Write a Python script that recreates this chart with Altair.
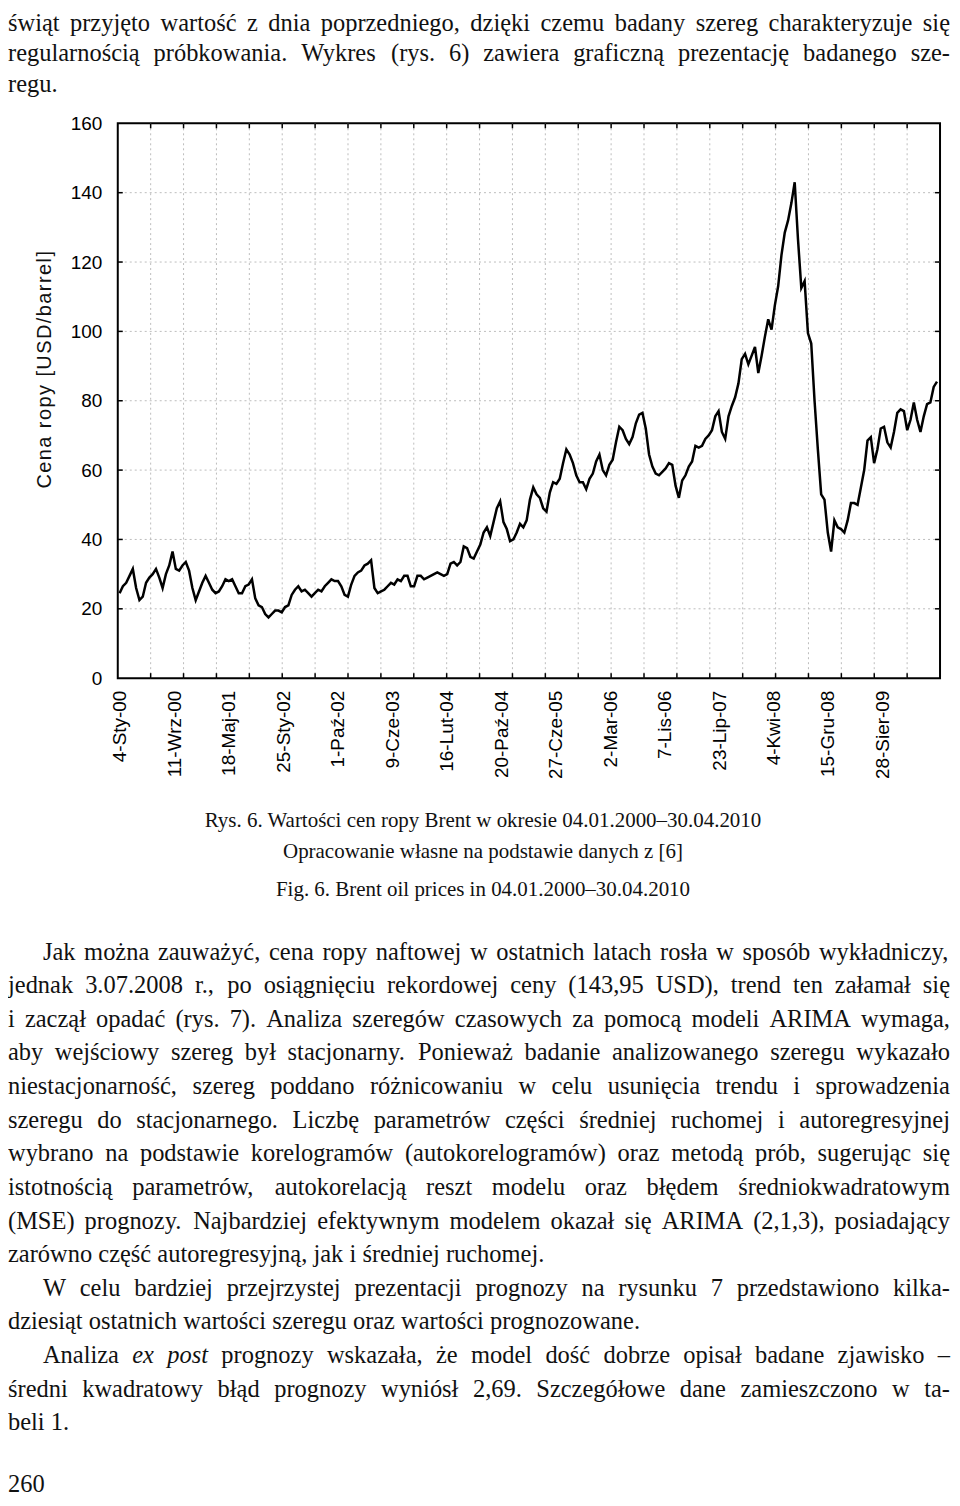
import altair as alt
import numpy as np
import pandas as pd

# Brent oil price, two readings per month, Jan 2000 - Apr 2010 (USD/barrel)
brent = [
    24.5, 26.5, 27.5, 29.5, 31.5, 26.0, 22.5, 23.5, 27.5, 29.0, 30.0, 31.5,
    29.0, 26.0, 30.0, 32.5, 36.5, 31.5, 31.0, 32.5, 33.5, 31.0, 26.0, 22.5,
    25.0, 27.5, 29.5, 27.5, 25.5, 24.5, 25.0, 26.5, 28.5, 28.0, 28.5, 26.5,
    24.5, 24.5, 26.5, 27.0, 28.5, 23.0, 21.0, 20.5, 18.5, 17.5, 18.5, 19.5,
    19.5, 19.0, 20.5, 21.0, 24.0, 25.5, 26.5, 25.0, 25.5, 24.5, 23.5, 24.5,
    25.5, 25.0, 26.5, 27.5, 28.5, 28.0, 28.0, 26.5, 24.0, 23.5, 27.0, 29.5,
    30.5, 31.0, 32.5, 33.0, 34.0, 26.0, 24.5, 25.0, 25.5, 26.5, 27.5, 27.0,
    28.5, 28.0, 29.5, 29.5, 26.5, 26.5, 29.5, 29.5, 28.5, 29.0, 29.5, 30.0,
    30.5, 30.0, 29.5, 30.0, 33.0, 33.5, 32.5, 33.5, 38.0, 37.5, 35.0, 34.5,
    36.5, 38.5, 42.0, 43.5, 41.0, 45.0, 49.0, 51.0, 45.0, 43.0, 39.5, 40.0,
    42.0, 44.5, 43.5, 45.5, 51.5, 55.0, 53.0, 52.0, 49.0, 48.0, 53.5, 56.5,
    56.0, 57.5, 62.0, 66.0, 64.5, 62.0, 58.5, 56.5, 56.5, 54.5, 57.5, 59.0,
    62.5, 64.5, 60.0, 58.5, 61.5, 63.0, 68.0, 72.5, 71.5, 69.0, 67.5, 69.5,
    73.5, 76.0, 76.5, 72.0, 64.5, 61.0, 59.0, 58.5, 59.5, 60.5, 62.0, 61.5,
    55.5, 52.0, 57.0, 58.5, 61.0, 62.5, 67.0, 66.5, 67.0, 69.0, 70.0, 71.5,
    75.5, 77.0, 71.0, 69.0, 75.5, 78.5, 81.0, 85.0, 92.0, 93.5, 90.5, 93.0,
    95.5, 88.0, 93.0, 98.5, 103.5, 100.5, 107.5, 113.0, 122.0, 128.5, 132.0, 137.0,
    143.0, 126.5, 112.5, 114.5, 99.5, 96.5, 80.0, 66.0, 53.0, 51.5, 42.0, 36.5,
    45.5, 43.5, 43.0, 42.0, 45.5, 50.5, 50.5, 50.0, 55.0, 60.0, 68.5, 69.5,
    62.0, 66.0, 72.0, 72.5, 68.0, 66.5, 71.0, 76.5, 77.5, 77.0, 71.5, 74.5,
    79.5, 74.5, 71.0, 75.5, 79.0, 79.5, 84.0, 85.5,
]

x_labels = ["4-Sty-00", "11-Wrz-00", "18-Maj-01", "25-Sty-02", "1-Paź-02",
            "9-Cze-03", "16-Lut-04", "20-Paź-04", "27-Cze-05", "2-Mar-06",
            "7-Lis-06", "23-Lip-07", "4-Kwi-08", "15-Gru-08", "28-Sier-09"]
label_step = 180
y_values = [0, 20, 40, 60, 80, 100, 120, 140, 160]
y_title = "Cena ropy [USD/barrel]"

top_lines = [
    "świąt przyjęto wartość z dnia poprzedniego, dzięki czemu  badany szereg charakteryzuje się",
    "regularnością próbkowania. Wykres (rys. 6) zawiera graficzną prezentację badanego sze-",
    "regu.",
]
top_justified = [True, True, False]
caption_lines = [
    "Rys. 6. Wartości cen ropy Brent w okresie 04.01.2000–30.04.2010",
    "Opracowanie własne na podstawie danych z [6]",
]
caption_en = "Fig. 6. Brent oil prices in 04.01.2000–30.04.2010"
# words wrapped in *...* are set in italics
body_lines = [
    "Jak można zauważyć, cena ropy naftowej w ostatnich latach rosła w sposób wykładniczy,",
    "jednak 3.07.2008 r., po osiągnięciu rekordowej ceny (143,95 USD), trend ten załamał się",
    "i zaczął opadać (rys. 7). Analiza szeregów czasowych za pomocą modeli ARIMA wymaga,",
    "aby wejściowy szereg był stacjonarny. Ponieważ badanie analizowanego szeregu wykazało",
    "niestacjonarność, szereg poddano różnicowaniu w celu usunięcia trendu i sprowadzenia",
    "szeregu do stacjonarnego. Liczbę parametrów części średniej ruchomej i autoregresyjnej",
    "wybrano na podstawie korelogramów (autokorelogramów) oraz metodą prób, sugerując się",
    "istotnością parametrów, autokorelacją reszt modelu oraz błędem średniokwadratowym",
    "(MSE) prognozy. Najbardziej efektywnym modelem okazał się ARIMA (2,1,3), posiadający",
    "zarówno część autoregresyjną, jak i średniej ruchomej.",
    "W celu bardziej przejrzystej prezentacji prognozy na rysunku 7 przedstawiono kilka-",
    "dziesiąt ostatnich wartości szeregu oraz wartości prognozowane.",
    "Analiza *ex* *post* prognozy wskazała, że model dość dobrze opisał badane zjawisko –",
    "średni kwadratowy błąd prognozy wyniósł 2,69. Szczegółowe dane zamieszczono w ta-",
    "beli 1.",
]
body_indented = [True, False, False, False, False, False, False, False, False, False,
                 True, False, True, False, False]
body_justified = [True, True, True, True, True, True, True, True, True, False,
                  True, False, True, True, False]
page_number = "260"

# ---------------- text metrics (Times / Arial compatible advance widths, 1/1000 em) -----
TIMES = {" ": 250, "!": 333, "%": 833, "(": 333, ")": 333, ",": 250, "-": 333, ".": 250,
         "/": 278, ":": 278, ";": 278, "[": 333, "]": 333, "–": 500, "?": 444,
         "A": 722, "B": 667, "C": 667, "D": 722, "E": 611, "F": 556, "G": 722, "H": 722,
         "I": 333, "J": 389, "K": 722, "L": 611, "M": 889, "N": 722, "O": 722, "P": 556,
         "Q": 722, "R": 667, "S": 556, "T": 611, "U": 722, "V": 722, "W": 944, "X": 722,
         "Y": 722, "Z": 611,
         "a": 444, "b": 500, "c": 444, "d": 500, "e": 444, "f": 333, "g": 500, "h": 500,
         "i": 278, "j": 278, "k": 500, "l": 278, "m": 778, "n": 500, "o": 500, "p": 500,
         "q": 500, "r": 333, "s": 389, "t": 278, "u": 500, "v": 500, "w": 722, "x": 500,
         "y": 500, "z": 444}
TIMES_IT = {"e": 444, "x": 444, "p": 500, "o": 500, "s": 389, "t": 278}
ARIAL = {"C": 722, "e": 556, "n": 556, "a": 556, " ": 278, "r": 333, "o": 556, "p": 556,
         "y": 500, "[": 278, "U": 722, "S": 667, "D": 722, "/": 278, "b": 556, "l": 222,
         "]": 278}
BASE = {"ą": "a", "ć": "c", "ę": "e", "ł": "l", "ń": "n", "ó": "o", "ś": "s", "ź": "z",
        "ż": "z", "Ś": "S", "Ż": "Z", "Ł": "L"}


def word_width(word, size, italic=False):
    total = 0
    for ch in word:
        ch = BASE.get(ch, ch)
        if ch.isdigit():
            total += 500
        elif italic and ch in TIMES_IT:
            total += TIMES_IT[ch]
        else:
            total += TIMES.get(ch, 500)
    return total * size / 1000.0


def set_line(line, x0, x1, y, size, justify):
    """Place the words of one line, stretching the gaps to x1 when justified."""
    toks = []
    for w in line.split():
        it = w.startswith("*") and w.endswith("*")
        toks.append((w.strip("*") if it else w, it))
    widths = [word_width(w, size, it) for w, it in toks]
    gap = 0.25 * size
    if justify and len(toks) > 1:
        gap = (x1 - x0 - sum(widths)) / (len(toks) - 1)
    rows, x = [], x0
    for (w, it), wd in zip(toks, widths):
        rows.append((w, x, y, it))
        x += wd + gap
    return rows


# ---------------- layout ----------------
W, H = 824, 556
OX, OY = 118, 122  # page position of the plot origin
X_DOMAIN = [-6, 2710]
xs = alt.Scale(domain=X_DOMAIN, nice=False, zero=False)
ys = alt.Scale(domain=[0, 160], nice=False, zero=False)
SERIF = "Liberation Serif"
SANS = "Liberation Sans"
GRID = "#bdbdbd"
BODY_SIZE = 24.5
RIGHT = 952

series = pd.DataFrame({"idx": np.linspace(0, 2700, len(brent)), "price": brent})
gx = pd.DataFrame({"g": np.linspace(X_DOMAIN[0], X_DOMAIN[1], 26)[1:-1]})
gy = pd.DataFrame({"v": y_values[1:-1]})

vgrid = alt.Chart(gx).mark_rule(color=GRID, strokeDash=[2, 3], strokeWidth=1).encode(
    x=alt.X("g:Q", scale=xs, axis=None))
hgrid = alt.Chart(gy).mark_rule(color=GRID, strokeDash=[2, 3], strokeWidth=1).encode(
    y=alt.Y("v:Q", scale=ys, axis=None))
tick_b = alt.Chart(gx).mark_rule(color="black", strokeWidth=1.5).encode(
    x=alt.X("g:Q", scale=xs, axis=None), y=alt.value(H), y2=alt.value(H - 5))
tick_t = alt.Chart(gx).mark_rule(color="black", strokeWidth=1.5).encode(
    x=alt.X("g:Q", scale=xs, axis=None), y=alt.value(0), y2=alt.value(5))
tick_l = alt.Chart(gy).mark_rule(color="black", strokeWidth=1.5).encode(
    y=alt.Y("v:Q", scale=ys, axis=None), x=alt.value(0), x2=alt.value(5))
tick_r = alt.Chart(gy).mark_rule(color="black", strokeWidth=1.5).encode(
    y=alt.Y("v:Q", scale=ys, axis=None), x=alt.value(W), x2=alt.value(W - 5))

label_expr = "[" + ",".join("'%s'" % s for s in x_labels) + "][round(datum.value/%d)]" % label_step
line = alt.Chart(series).mark_line(color="black", strokeWidth=2.5).encode(
    x=alt.X("idx:Q", scale=xs, axis=alt.Axis(
        values=[i * label_step for i in range(len(x_labels))], labelExpr=label_expr,
        labelAngle=270, labelAlign="right", labelBaseline="middle", labelPadding=12,
        labelFontSize=19, labelFont=SANS, labelColor="black", ticks=False, domain=False,
        grid=False, title=None, labelFlush=False, labelOverlap=False, labelBound=False)),
    y=alt.Y("price:Q", scale=ys, axis=alt.Axis(
        values=y_values, ticks=False, domain=False, grid=False, title=None,
        labelFontSize=19, labelFont=SANS, labelColor="black", labelPadding=16,
        labelFlush=False)),
)


def txt(rows, **kw):
    df = pd.DataFrame(rows, columns=["t", "px", "py"])
    return alt.Chart(df).mark_text(color="#111111", **kw).encode(
        x=alt.X("px:Q", scale=None, axis=None),
        y=alt.Y("py:Q", scale=None, axis=None),
        text="t:N")


word_rows = []
for i, s in enumerate(top_lines):
    word_rows += set_line(s, 8, RIGHT, 29 + 31 * i, BODY_SIZE, top_justified[i])
for i, s in enumerate(body_lines):
    x0 = 43 if body_indented[i] else 8
    word_rows += set_line(s, x0, RIGHT, 960 + 33.7 * i, BODY_SIZE, body_justified[i])
normal_rows = [(w, x - OX, y - OY) for w, x, y, it in word_rows if not it]
italic_rows = [(w, x - OX, y - OY) for w, x, y, it in word_rows if it]
normal_rows.append((page_number, 8 - OX, 1494 - OY))

cap_rows = [(s, 484 - OX, 827 + 31 * i - OY) for i, s in enumerate(caption_lines)]
cap_rows.append((caption_en, 484 - OX, 896 - OY))

# y-axis title, letter-spaced along its span (bottom 488 -> top 250 on the page)
t_size = 20
natural = sum(ARIAL.get(c, 556) for c in y_title) * t_size / 1000.0
extra = (238 - natural) / (len(y_title) - 1)
title_rows, pos = [], 488.0
for c in y_title:
    title_rows.append((c, 45 - OX, pos - OY))
    pos -= ARIAL.get(c, 556) * t_size / 1000.0 + extra

layers = [
    vgrid, hgrid, tick_b, tick_t, tick_l, tick_r, line,
    txt(normal_rows, font=SERIF, fontSize=BODY_SIZE, align="left", baseline="alphabetic"),
    txt(italic_rows, font=SERIF, fontSize=BODY_SIZE, fontStyle="italic", align="left",
        baseline="alphabetic"),
    txt(cap_rows, font=SERIF, fontSize=21, align="center", baseline="alphabetic"),
    txt(title_rows, font=SANS, fontSize=t_size, angle=270, align="left", baseline="middle"),
]

chart = alt.layer(*layers).resolve_scale(x="independent", y="independent").properties(
    width=W, height=H,
    autosize=alt.AutoSizeParams(type="none"),
    padding={"left": OX - 8, "top": OY - 8, "right": 12, "bottom": 818},
    background="white",
).configure_view(stroke="black", strokeWidth=2)

chart.save("out.html", embed_options={"renderer": "svg", "actions": False})
